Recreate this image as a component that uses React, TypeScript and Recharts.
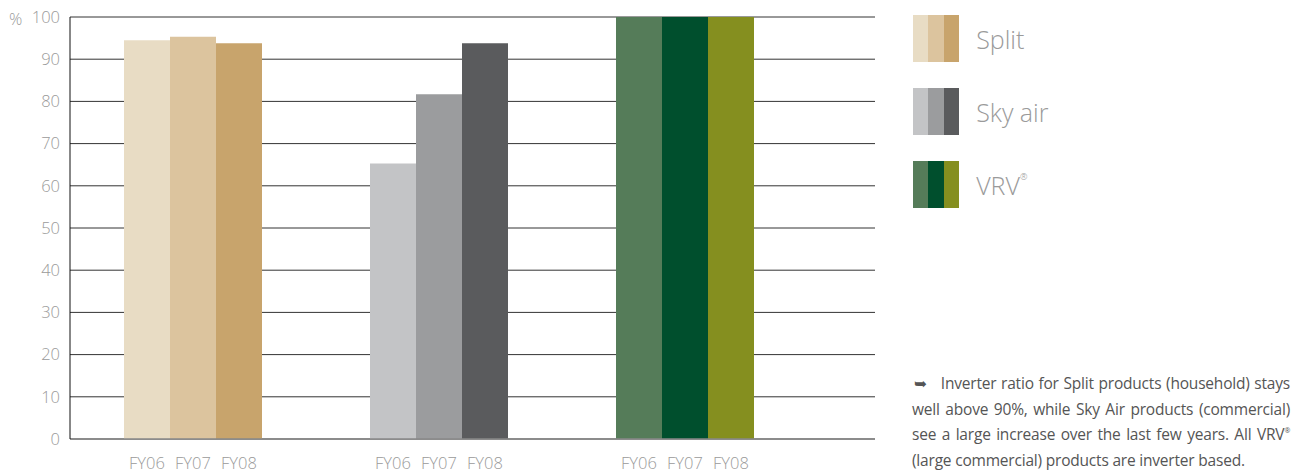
import { BarChart, Bar, XAxis, YAxis, CartesianGrid, Cell } from 'recharts';

const groups = ['Split', 'Sky air', 'VRV'];
const years = ['FY06', 'FY07', 'FY08'];
const fy06 = [94.5, 65.3, 100];
const fy07 = [95.3, 81.7, 100];
const fy08 = [93.8, 93.8, 100];
const yTicks = [0, 10, 20, 30, 40, 50, 60, 70, 80, 90, 100];

const groupColors = [
  ['#e8dcc4', '#dcc49e', '#c8a46c'],
  ['#c3c4c6', '#9b9c9e', '#5a5b5d'],
  ['#557c59', '#004f2d', '#858f1f'],
];

const noteLines = [
  'Inverter ratio for Split products (household) stays',
  'well above 90%, while Sky Air products (commercial)',
  'see a large increase over the last few years. All VRV',
  '(large commercial) products are inverter based.',
];

const data = groups.map((g, i) => ({ group: g, FY06: fy06[i], FY07: fy07[i], FY08: fy08[i] }));

const font = '"Open Sans", "Noto Sans", sans-serif';
const BAR = 46;

const GroupTick = (props: any) => {
  const { x, y } = props;
  return (
    <g>
      {years.map((yr, i) => (
        <text key={yr} x={x + (i - 1) * BAR} y={y + 22} textAnchor="middle" fill="#9a9a9a" fontSize={16.5} fontFamily={font} fontWeight={300}>
          {yr}
        </text>
      ))}
    </g>
  );
};

export default function App() {
  return (
    <div style={{ position: 'absolute', left: 0, top: 0, width: 1305, height: 474, background: '#fff', fontFamily: font }}>
      <div style={{ position: 'absolute', left: 9, top: 7, fontSize: 16.5, color: '#9a9a9a', fontWeight: 300 }}>%</div>
      <BarChart width={880} height={474} data={data} margin={{ top: 17, right: 5, bottom: 5, left: 0 }} barGap={0}>
        <CartesianGrid vertical={false} stroke="#333" strokeWidth={1} />
        <XAxis
          dataKey="group"
          height={30}
          padding={{ left: 0, right: 67 }}
          axisLine={{ stroke: '#888', strokeWidth: 1.5 }}
          tickLine={false}
          tick={<GroupTick />}
        />
        <YAxis
          domain={[0, 100]}
          ticks={yTicks}
          width={70}
          axisLine={{ stroke: '#111' }}
          tickLine={false}
          tickSize={0}
          tickMargin={10}
          tick={{ fill: '#9a9a9a', fontSize: 16.5, fontFamily: font, fontWeight: 300 }}
        />
        {years.map((yr, yi) => (
          <Bar key={yr} dataKey={yr} barSize={BAR} isAnimationActive={false}>
            {data.map((_, gi) => (
              <Cell key={gi} fill={groupColors[gi][yi]} />
            ))}
          </Bar>
        ))}
      </BarChart>

      {groups.map((g, gi) => (
        <div key={g} style={{ position: 'absolute', left: 913, top: 15 + gi * 73, display: 'flex', alignItems: 'center' }}>
          {groupColors[gi].map((c) => (
            <div key={c} style={{ width: 15.4, height: 47, background: c }} />
          ))}
          <div style={{ marginLeft: 17, fontSize: 25, color: '#9a9a9a', fontWeight: 300 }}>
            {g === 'VRV' ? (
              <>
                VRV<sup style={{ fontSize: 9, verticalAlign: 'top', position: 'relative', top: 2 }}>®</sup>
              </>
            ) : (
              g
            )}
          </div>
        </div>
      ))}

      <div style={{ position: 'absolute', left: 912, top: 371, width: 378, fontSize: 15.5, letterSpacing: -0.2, lineHeight: '25.7px', color: '#555' }}>
        {noteLines.map((line, i) => (
          <div key={i} style={{ height: 25.7, textAlign: 'justify', textAlignLast: i < 3 ? 'justify' : 'left', whiteSpace: 'nowrap' }}>
            {i === 0 && <span style={{ fontFamily: '"DejaVu Sans"', marginLeft: 2, marginRight: 14 }}>➥</span>}
            {line}
            {i === 2 && <span style={{ fontSize: 7, lineHeight: 0, position: 'relative', top: -7 }}>®</span>}
          </div>
        ))}
      </div>
    </div>
  );
}
